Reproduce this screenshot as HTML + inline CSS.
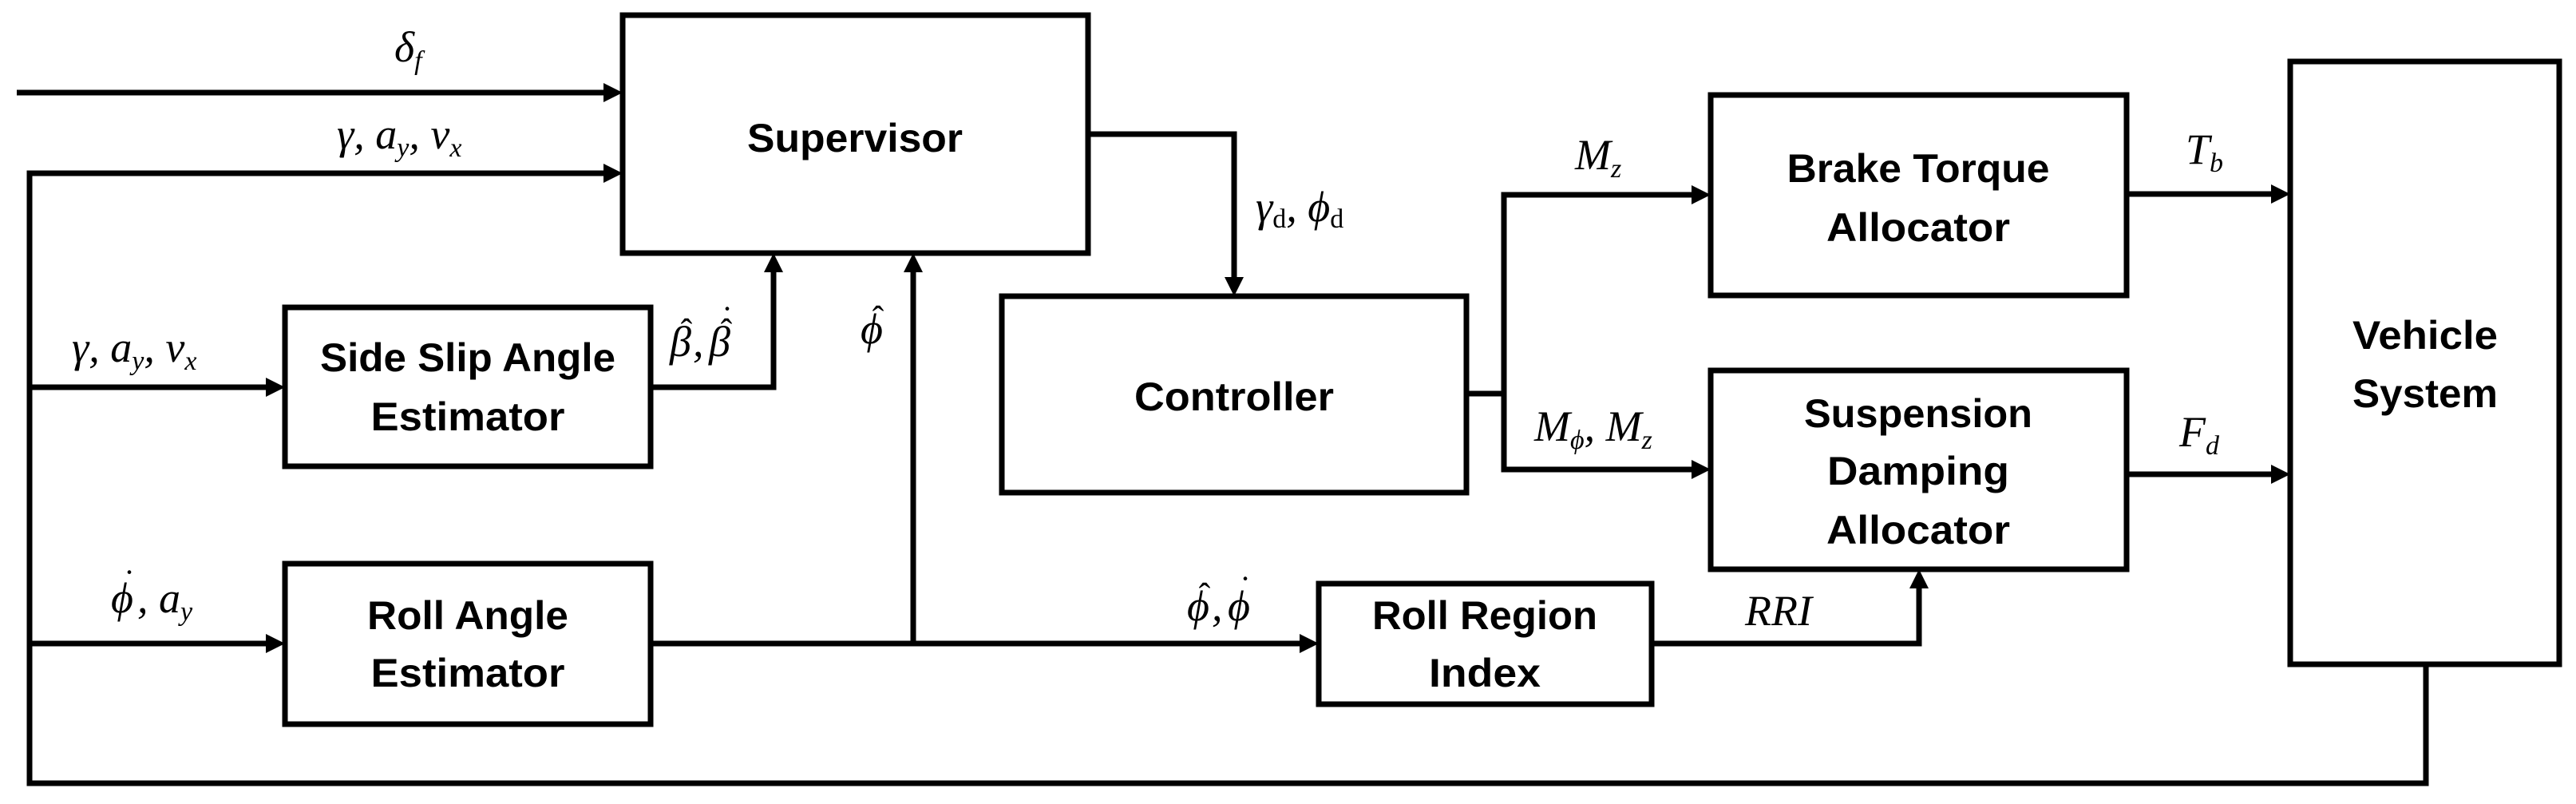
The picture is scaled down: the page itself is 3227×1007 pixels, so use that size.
<!DOCTYPE html>
<html><head><meta charset="utf-8"><style>
html,body{margin:0;padding:0;background:#fff;}
svg{display:block;}
.b{font-family:"Liberation Sans",sans-serif;font-weight:bold;font-size:50px;text-anchor:middle;}
.m{font-family:"Liberation Serif","DejaVu Serif",serif;font-style:italic;font-size:54px;}
.s{font-size:34px;}
.a{font-family:"Liberation Serif","DejaVu Serif",serif;font-size:44px;text-anchor:middle;font-style:normal;}
</style></head><body>
<svg width="3227" height="1007" viewBox="0 0 3227 1007" xmlns="http://www.w3.org/2000/svg">
<g fill="none" stroke="#000" stroke-width="7">
<rect x="780" y="19" width="583" height="298"/>
<rect x="357" y="385" width="458" height="199"/>
<rect x="357" y="706" width="458" height="201"/>
<rect x="1255" y="371" width="582" height="246"/>
<rect x="2143" y="119" width="521" height="251"/>
<rect x="2143" y="464" width="521" height="249"/>
<rect x="1652" y="731" width="417" height="151"/>
<rect x="2869" y="77" width="337" height="755"/>
<path d="M21 116H760"/>
<path d="M760 217H37V981H3039V832"/>
<path d="M37 485H337"/>
<path d="M37 806H337"/>
<path d="M815 485H969V337"/>
<path d="M815 806H1632"/>
<path d="M1144 806V337"/>
<path d="M1363 168H1546V351"/>
<path d="M1837 493H1884"/>
<path d="M2123 244H1884V588H2123"/>
<path d="M2664 243H2849"/>
<path d="M2664 594H2849"/>
<path d="M2069 806H2404V733"/>
</g>
<g fill="#000">
<polygon points="780,116 756,104 756,128"/>
<polygon points="780,217 756,205 756,229"/>
<polygon points="357,485 333,473 333,497"/>
<polygon points="357,806 333,794 333,818"/>
<polygon points="969,317 957,341 981,341"/>
<polygon points="1144,317 1132,341 1156,341"/>
<polygon points="1546,371 1534,347 1558,347"/>
<polygon points="2143,244 2119,232 2119,256"/>
<polygon points="2143,588 2119,576 2119,600"/>
<polygon points="2869,243 2845,231 2845,255"/>
<polygon points="2869,594 2845,582 2845,606"/>
<polygon points="1652,806 1628,794 1628,818"/>
<polygon points="2404,713 2392,737 2416,737"/>
</g>
<g class="b">
<text x="1071" y="190" textLength="270" lengthAdjust="spacingAndGlyphs">Supervisor</text>
<text x="586" y="465" textLength="370" lengthAdjust="spacingAndGlyphs">Side Slip Angle</text>
<text x="586" y="539" textLength="243" lengthAdjust="spacingAndGlyphs">Estimator</text>
<text x="586" y="788" textLength="252" lengthAdjust="spacingAndGlyphs">Roll Angle</text>
<text x="586" y="860" textLength="243" lengthAdjust="spacingAndGlyphs">Estimator</text>
<text x="1546" y="514" textLength="250" lengthAdjust="spacingAndGlyphs">Controller</text>
<text x="2403" y="228" textLength="329" lengthAdjust="spacingAndGlyphs">Brake Torque</text>
<text x="2403" y="302" textLength="230" lengthAdjust="spacingAndGlyphs">Allocator</text>
<text x="2403" y="535" textLength="286" lengthAdjust="spacingAndGlyphs">Suspension</text>
<text x="2403" y="607" textLength="228" lengthAdjust="spacingAndGlyphs">Damping</text>
<text x="2403" y="681" textLength="230" lengthAdjust="spacingAndGlyphs">Allocator</text>
<text x="3038" y="437" textLength="182" lengthAdjust="spacingAndGlyphs">Vehicle</text>
<text x="3038" y="510" textLength="182" lengthAdjust="spacingAndGlyphs">System</text>
<text x="1860" y="788" textLength="282" lengthAdjust="spacingAndGlyphs">Roll Region</text>
<text x="1860" y="860" textLength="140" lengthAdjust="spacingAndGlyphs">Index</text>
</g>
<g class="m">
<text x="494" y="77">δ<tspan class="s" dy="10">f</tspan></text>
<text x="422" y="186">γ, a<tspan class="s" dy="10">y</tspan><tspan dy="-10">, v</tspan><tspan class="s" dy="10">x</tspan></text>
<text x="90" y="453">γ, a<tspan class="s" dy="10">y</tspan><tspan dy="-10">, v</tspan><tspan class="s" dy="10">x</tspan></text>
<text x="139" y="767">ϕ</text><text x="172" y="767">, a<tspan class="s" dy="10">y</tspan></text>
<text x="839" y="446">β</text><text x="868" y="446">,</text><text x="888" y="446">β</text>
<text x="1078" y="430">ϕ</text>
<text x="1487" y="777">ϕ</text><text x="1518" y="777">,</text><text x="1538" y="777">ϕ</text>
<text x="1573" y="277">γ<tspan class="s" dy="8" font-style="normal">d</tspan><tspan dy="-8">, ϕ</tspan><tspan class="s" dy="8" font-style="normal">d</tspan></text>
<text x="1973" y="212">M<tspan class="s" dy="10">z</tspan></text>
<text x="2738" y="205">T<tspan class="s" dy="10">b</tspan></text>
<text x="1922" y="552">M<tspan class="s" dy="10">ϕ</tspan><tspan dy="-10">, M</tspan><tspan class="s" dy="10">z</tspan></text>
<text x="2730" y="559">F<tspan class="s" dy="10">d</tspan></text>
<text x="2186" y="783">RRI</text>
</g>
<g class="a">
<text x="162" y="744">˙</text>
<text x="860" y="430">ˆ</text>
<text x="910" y="430">ˆ</text>
<text x="911" y="414">˙</text>
<text x="1100" y="414">ˆ</text>
<text x="1509" y="761">ˆ</text>
<text x="1560" y="752">˙</text>
</g>
</svg>
</body></html>
